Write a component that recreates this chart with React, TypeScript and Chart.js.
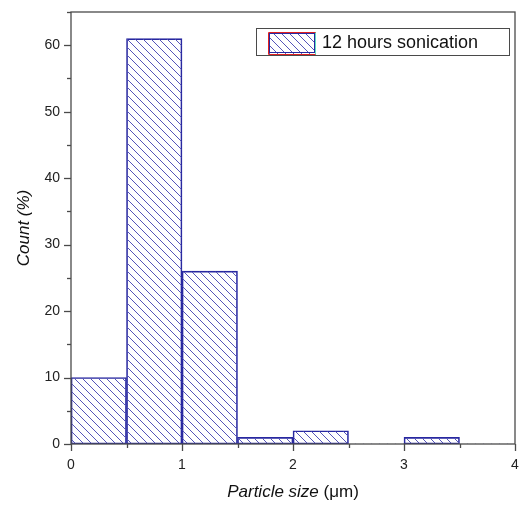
import React, { useEffect, useRef } from "react";
import { Chart, registerables } from "chart.js";

Chart.register(...registerables);

const binCenters = [0.25, 0.75, 1.25, 1.75, 2.25, 2.75, 3.25, 3.75];
const counts = [10, 61, 26, 1, 2, 0, 1, 0];
const xTicks = [0, 1, 2, 3, 4];
const yTicks = [0, 10, 20, 30, 40, 50, 60];
const legendLabel = "12 hours sonication";
const xTitleItalic = "Particle size";
const xTitleUnit = " (\u03bcm)";
const yTitle = "Count (%)";

const FONT = "'Liberation Sans', Arial, sans-serif";
const AXIS = "#4a4a4a";
const HATCH = "rgb(85,85,185)";
const EDGE = "rgb(40,40,160)";

function makePattern(): CanvasPattern | string {
  const s = 8;
  const c = document.createElement("canvas");
  c.width = s;
  c.height = s;
  const g = c.getContext("2d");
  if (!g) return HATCH;
  g.strokeStyle = HATCH;
  g.lineWidth = 1;
  for (let k = -1; k <= 1; k++) {
    g.beginPath();
    g.moveTo(k * s, 0);
    g.lineTo(k * s + s, s);
    g.stroke();
  }
  const p = g.createPattern(c, "repeat");
  return p || HATCH;
}

export default function App() {
  const ref = useRef<HTMLCanvasElement | null>(null);
  useEffect(() => {
    if (!ref.current) return;
    const pattern = makePattern();
    const decor = {
      id: "decor",
      afterDraw(chart: any) {
        const ctx = chart.ctx;
        const a = chart.chartArea;
        const xs = chart.scales.x;
        const ys = chart.scales.y;
        ctx.save();
        ctx.strokeStyle = AXIS;
        ctx.lineWidth = 1.3;
        // frame
        ctx.strokeRect(a.left, a.top, a.right - a.left, a.bottom - a.top);
        // y ticks
        for (let v = 0; v <= 65; v += 5) {
          const y = Math.round(ys.getPixelForValue(v)) + 0.5;
          const len = v % 10 === 0 ? 7 : 4;
          ctx.beginPath();
          ctx.moveTo(a.left - len, y);
          ctx.lineTo(a.left, y);
          ctx.stroke();
        }
        // x ticks
        for (let v = 0; v <= 4; v += 0.5) {
          const x = Math.round(xs.getPixelForValue(v)) + 0.5;
          const len = v % 1 === 0 ? 7 : 4;
          ctx.beginPath();
          ctx.moveTo(x, a.bottom);
          ctx.lineTo(x, a.bottom + len);
          ctx.stroke();
        }
        // x title
        ctx.fillStyle = "#111";
        ctx.textBaseline = "middle";
        ctx.font = `italic 17px ${FONT}`;
        const w1 = ctx.measureText(xTitleItalic).width;
        ctx.font = `17px ${FONT}`;
        const w2 = ctx.measureText(xTitleUnit).width;
        const cx = (a.left + a.right) / 2;
        const sx = cx - (w1 + w2) / 2;
        ctx.textAlign = "left";
        ctx.font = `italic 17px ${FONT}`;
        ctx.fillText(xTitleItalic, sx, 492);
        ctx.font = `17px ${FONT}`;
        ctx.fillText(xTitleUnit, sx + w1, 492);
        // y title
        ctx.save();
        ctx.translate(24, (a.top + a.bottom) / 2);
        ctx.rotate(-Math.PI / 2);
        ctx.textAlign = "center";
        ctx.font = `italic 17px ${FONT}`;
        ctx.fillText(yTitle, 0, 0);
        ctx.restore();
        // legend
        ctx.lineWidth = 1;
        ctx.strokeStyle = AXIS;
        ctx.strokeRect(256.5, 28.5, 253, 27);
        ctx.fillStyle = pattern as any;
        ctx.fillRect(268, 32, 48, 22);
        ctx.strokeStyle = EDGE;
        ctx.strokeRect(269.5, 33.5, 45, 19);
        ctx.strokeStyle = "#e02020";
        ctx.beginPath();
        ctx.moveTo(316, 32.5);
        ctx.lineTo(268.5, 32.5);
        ctx.lineTo(268.5, 54.5);
        ctx.lineTo(316, 54.5);
        ctx.stroke();
        ctx.strokeStyle = "#60e0c0";
        ctx.beginPath();
        ctx.moveTo(315.5, 32.5);
        ctx.lineTo(315.5, 54.5);
        ctx.stroke();
        ctx.fillStyle = "#111";
        ctx.font = `18px ${FONT}`;
        ctx.textAlign = "left";
        ctx.textBaseline = "middle";
        ctx.fillText(legendLabel, 322, 43);
        ctx.restore();
      },
    };
    const chart = new Chart(ref.current, {
      type: "bar",
      data: {
        datasets: [
          {
            label: legendLabel,
            data: binCenters.map((x, i) => ({ x, y: counts[i] })),
            backgroundColor: pattern as any,
            borderColor: EDGE,
            borderWidth: (c: any) => (c.raw && c.raw.y > 0 ? 1 : 0),
            borderSkipped: false,
            barPercentage: 1,
            categoryPercentage: 1,
          },
        ],
      },
      options: {
        animation: false,
        responsive: false,
        maintainAspectRatio: false,
        layout: { padding: { top: 12, right: 6, left: 0, bottom: 0 } },
        plugins: { legend: { display: false }, tooltip: { enabled: false } },
        scales: {
          x: {
            type: "linear",
            offset: false,
            min: 0,
            max: 4,
            grid: { display: false, drawTicks: false, offset: false },
            border: { display: false },
            afterFit: (s: any) => {
              s.height = 62;
              s.paddingLeft = 0;
              s.paddingRight = 0;
            },
            afterBuildTicks: (s: any) => {
              s.ticks = xTicks.map((v) => ({ value: v }));
            },
            ticks: {
              padding: 13,
              color: "#222",
              font: { family: FONT, size: 14 },
              callback: (v: any) => String(v),
            },
          },
          y: {
            min: 0,
            max: 65,
            grid: { display: false, drawTicks: false },
            border: { display: false },
            afterFit: (s: any) => {
              s.width = 71;
              s.paddingTop = 0;
              s.paddingBottom = 0;
            },
            afterBuildTicks: (s: any) => {
              s.ticks = yTicks.map((v) => ({ value: v }));
            },
            ticks: {
              padding: 11,
              color: "#222",
              font: { family: FONT, size: 14 },
              callback: (v: any) => String(v),
            },
          },
        },
      },
      plugins: [decor],
    } as any);
    return () => chart.destroy();
  }, []);
  return (
    <div style={{ position: "fixed", left: 0, top: 0, width: 521, height: 506, background: "#fff" }}>
      <canvas ref={ref} width={521} height={506} style={{ width: 521, height: 506 }} />
    </div>
  );
}
